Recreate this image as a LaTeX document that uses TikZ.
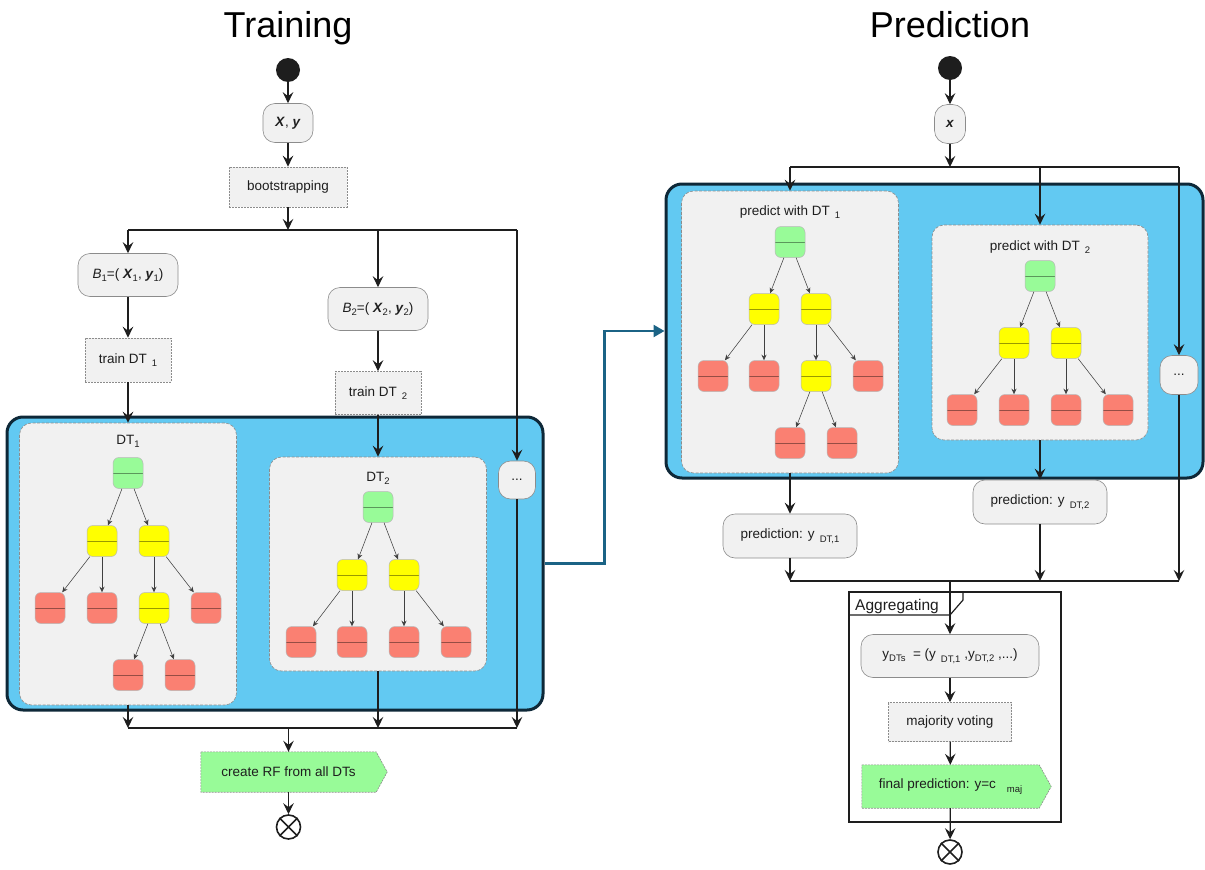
\documentclass[tikz,border=0pt]{standalone}
\usepackage{fontspec}
\setmainfont{Liberation Sans}
\usepackage{tikz}
\usetikzlibrary{arrows.meta,calc}
\pgfdeclarelayer{bg}
\pgfsetlayers{bg,main}

\definecolor{boxfill}{HTML}{F1F1F1}
\definecolor{boxline}{HTML}{8C8C8C}
\definecolor{poolblue}{HTML}{62C9F2}
\definecolor{poolline}{HTML}{0E2838}
\definecolor{linkteal}{HTML}{1B6385}
\definecolor{leafgreen}{HTML}{98FB98}
\definecolor{splityellow}{HTML}{FFFF00}
\definecolor{leafred}{HTML}{FA8072}
\definecolor{ink}{HTML}{1E1E1E}

% spaced, lowered subscript and tight subscript
\newcommand{\lsub}[1]{\hspace{5pt}\raisebox{-3.5pt}{\fontsize{9.5}{10}\selectfont #1}}
\newcommand{\tsub}[1]{\raisebox{-3pt}{\fontsize{9.5}{10}\selectfont #1}}

\tikzset{
  txt/.style={font=\fontsize{13.5}{15}\selectfont, text=ink},
  act/.style={txt, draw=boxline, fill=boxfill, line width=0.6pt, rounded corners=12pt, inner sep=0pt},
  task/.style={txt, draw=boxline, fill=boxfill, line width=0.6pt, dash pattern=on 2pt off 1pt, inner sep=0pt},
  sigtext/.style={txt, inner sep=0pt},
  sigshape/.style={draw=boxline, fill=leafgreen, line width=0.6pt, dash pattern=on 2pt off 1pt},
  panel/.style={draw=boxline, fill=boxfill, line width=0.6pt, dash pattern=on 3pt off 1.5pt, rounded corners=12pt, inner sep=0pt},
  pool/.style={draw=poolline, fill=poolblue, line width=3pt, rounded corners=16pt, inner sep=0pt},
  tn/.style={fill=#1, draw=black!28, line width=0.5pt, minimum width=30pt, minimum height=31pt,
    inner sep=0pt, rounded corners=6pt,
    path picture={\draw[draw=#1!60!black, line width=0.8pt]
      (path picture bounding box.west) -- (path picture bounding box.east);}},
  tarr/.style={-{Stealth[length=5.5pt,width=5pt]}, line width=0.55pt, draw=ink!85},
  flow/.style={-{Stealth[length=11pt,width=10.5pt,inset=4pt]}, line width=1.2pt, draw=ink},
  bar/.style={line width=1.5pt, draw=ink},
  startdot/.style={circle, fill=ink, minimum size=24pt, inner sep=0pt},
  enddot/.style={circle, draw=ink, fill=white, line width=1.6pt, minimum size=24pt, inner sep=0pt},
  heading/.style={font=\fontsize{36}{40}\selectfont, text=black, anchor=base},
  link/.style={draw=linkteal, line width=2.5pt, -{Triangle[length=11pt,width=12pt]}}
}

\begin{document}
\begin{tikzpicture}[x=1pt,y=-1pt]
\useasboundingbox (0,0) rectangle (1205,870);

% ================= Training =================
\node[heading] (ttitle) at (288,37) {Training};
\node[startdot] (tstart) at (288,70) {};
\node[act, minimum width=50pt, minimum height=39pt] (xy) at (288,123)
  {\textbf{\textit{X}}, \textbf{\textit{y}}};
\node[task, minimum width=118pt, minimum height=40pt] (boot) at (288,187) {bootstrapping};

\coordinate (tf0) at (288,230);
\coordinate (tf1) at (128,230);
\coordinate (tf2) at (378,230);
\coordinate (tf3) at (517,230);

\node[act, minimum width=100pt, minimum height=43pt] (b1) at (128,275)
  {\textit{B}\tsub{1}=( \textbf{\textit{X}}\tsub{1}, \textbf{\textit{y}}\tsub{1})};
\node[act, minimum width=100pt, minimum height=43pt] (b2) at (378,309)
  {\textit{B}\tsub{2}=( \textbf{\textit{X}}\tsub{2}, \textbf{\textit{y}}\tsub{2})};
\node[task, minimum width=86pt, minimum height=44pt] (tr1) at (128,360) {train DT\lsub{1}};
\node[task, minimum width=86pt, minimum height=43pt] (tr2) at (378,393) {train DT\lsub{2}};

% pool of trained trees
\node[pool, minimum width=536pt, minimum height=293pt] (tpool) at (275,563.5) {};
\node[panel, minimum width=217pt, minimum height=282pt] (dt1p) at (128,564) {};
\node[panel, minimum width=217pt, minimum height=214pt] (dt2p) at (378,564) {};
\node[act, rounded corners=12pt, minimum width=37pt, minimum height=38pt] (tdots) at (517,480) {...};

\node[txt] (dt1t) at (128,441) {DT\tsub{1}};
\node[txt] (dt2t) at (378,478) {DT\tsub{2}};

% tree 1
\node[tn=leafgreen]   (a1r)  at (128,473) {};
\node[tn=splityellow] (a1l)  at (102,541) {};
\node[tn=splityellow] (a1m)  at (154,541) {};
\node[tn=leafred]     (a1la) at (50,608) {};
\node[tn=leafred]     (a1lb) at (102,608) {};
\node[tn=splityellow] (a1ma) at (154,608) {};
\node[tn=leafred]     (a1mb) at (206,608) {};
\node[tn=leafred]     (a1x)  at (128,675) {};
\node[tn=leafred]     (a1y)  at (180,675) {};
\foreach \p/\c in {a1r/a1l,a1r/a1m,a1l/a1la,a1l/a1lb,a1m/a1ma,a1m/a1mb,a1ma/a1x,a1ma/a1y}
  \draw[tarr] (\p) -- (\c);

% tree 2
\node[tn=leafgreen]   (a2r) at (378,507) {};
\node[tn=splityellow] (a2l) at (352,575) {};
\node[tn=splityellow] (a2m) at (404,575) {};
\node[tn=leafred]     (a2a) at (301,642) {};
\node[tn=leafred]     (a2b) at (352,642) {};
\node[tn=leafred]     (a2c) at (404,642) {};
\node[tn=leafred]     (a2d) at (456,642) {};
\foreach \p/\c in {a2r/a2l,a2r/a2m,a2l/a2a,a2l/a2b,a2m/a2c,a2m/a2d}
  \draw[tarr] (\p) -- (\c);

\coordinate (tj0) at (288.5,728);
\coordinate (tj1) at (128,728);
\coordinate (tj2) at (378,728);
\coordinate (tj3) at (517,728);

\node[sigtext, minimum width=175pt, minimum height=40pt] (rf) at (288.5,772) {create RF from all DTs};
\begin{pgfonlayer}{bg}
  \draw[sigshape] (rf.north west) -- (rf.north east) -- ($(rf.east)+(11,0)$)
    -- (rf.south east) -- (rf.south west) -- cycle;
\end{pgfonlayer}
\node[enddot] (tend) at (288.5,827) {};
\draw[line width=1.6pt, draw=ink] (tend.45) -- (tend.225) (tend.135) -- (tend.-45);

% training connectors
\draw[flow] (tstart) -- (xy);
\draw[flow] (xy) -- (boot);
\draw[flow] (boot) -- (tf0);
\draw[bar] (tf1) -- (tf3);
\draw[flow] (tf1) -- (b1);
\draw[flow] (tf2) -- (b2);
\draw[flow] (tf3) -- (tdots);
\draw[flow] (b1) -- (tr1);
\draw[flow] (b2) -- (tr2);
\draw[flow] (tr1) -- (dt1p);
\draw[flow] (tr2) -- (dt2p);
\draw[flow] (dt1p) -- (tj1);
\draw[flow] (dt2p) -- (tj2);
\draw[flow] (tdots) -- (tj3);
\draw[bar] (tj1) -- (tj3);
\draw[flow] (tj0) -- (rf);
\draw[flow] (rf) -- (tend);

% ================= Prediction =================
\node[heading] (ptitle) at (950,37) {Prediction};
\node[startdot] (pstart) at (950,68) {};
\node[act, rounded corners=13pt, minimum width=31pt, minimum height=39pt] (px) at (950,124)
  {\textbf{\textit{x}}};

\coordinate (pf0) at (950,167);
\coordinate (pf1) at (790,167);
\coordinate (pf2) at (1040,167);
\coordinate (pf3) at (1179,167);

\node[pool, minimum width=537pt, minimum height=294pt] (ppool) at (934.5,331) {};
\node[panel, minimum width=217pt, minimum height=282pt] (pp1) at (790,332) {};
\node[panel, minimum width=216pt, minimum height=215pt] (pp2) at (1040,332.5) {};
\node[act, rounded corners=12pt, minimum width=38pt, minimum height=39pt] (pdots) at (1179,375) {...};

\node[txt] (pp1t) at (790,212) {predict with DT\lsub{1}};
\node[txt] (pp2t) at (1040,247) {predict with DT\lsub{2}};

% tree 1, prediction
\node[tn=leafgreen]   (p1r)  at (790,242) {};
\node[tn=splityellow] (p1l)  at (764,309) {};
\node[tn=splityellow] (p1m)  at (816,309) {};
\node[tn=leafred]     (p1la) at (713,376) {};
\node[tn=leafred]     (p1lb) at (764,376) {};
\node[tn=splityellow] (p1ma) at (816,376) {};
\node[tn=leafred]     (p1mb) at (868,376) {};
\node[tn=leafred]     (p1x)  at (790,443) {};
\node[tn=leafred]     (p1y)  at (842,443) {};
\foreach \p/\c in {p1r/p1l,p1r/p1m,p1l/p1la,p1l/p1lb,p1m/p1ma,p1m/p1mb,p1ma/p1x,p1ma/p1y}
  \draw[tarr] (\p) -- (\c);

% tree 2, prediction
\node[tn=leafgreen]   (p2r) at (1040,276) {};
\node[tn=splityellow] (p2l) at (1014,343) {};
\node[tn=splityellow] (p2m) at (1066,343) {};
\node[tn=leafred]     (p2a) at (962,410) {};
\node[tn=leafred]     (p2b) at (1014,410) {};
\node[tn=leafred]     (p2c) at (1066,410) {};
\node[tn=leafred]     (p2d) at (1118,410) {};
\foreach \p/\c in {p2r/p2l,p2r/p2m,p2l/p2a,p2l/p2b,p2m/p2c,p2m/p2d}
  \draw[tarr] (\p) -- (\c);

\node[act, minimum width=134pt, minimum height=44pt] (pr1) at (790,536) {prediction: y\lsub{DT,1}};
\node[act, minimum width=134pt, minimum height=44pt] (pr2) at (1040,502) {prediction: y\lsub{DT,2}};

\coordinate (pj0) at (950,581);
\coordinate (pj1) at (790,581);
\coordinate (pj2) at (1040,581);
\coordinate (pj3) at (1179,581);

% aggregating frame
\node[draw=ink, line width=1.6pt, minimum width=212pt, minimum height=230pt, inner sep=0pt] (agg) at (955,707) {};
\draw[line width=1.2pt, draw=ink] (849,615) -- (950,615) -- (963,600) -- (963,592);
\node[font=\fontsize{15.5}{17}\selectfont, text=ink, anchor=base west, inner sep=0pt] (aggl) at (855,610) {Aggregating};

\node[act, minimum width=178pt, minimum height=43pt] (ydts) at (950,656)
  {y\tsub{DTs} \ = (y\lsub{DT,1} ,y\tsub{DT,2} ,...)};
\node[task, minimum width=123pt, minimum height=39pt] (maj) at (950,722) {majority voting};
\node[sigtext, minimum width=177pt, minimum height=43pt] (fin) at (950.5,786.5)
  {final prediction: y=c\lsub{\hspace{6pt}maj}};
\begin{pgfonlayer}{bg}
  \draw[sigshape] (fin.north west) -- (fin.north east) -- ($(fin.east)+(12,0)$)
    -- (fin.south east) -- (fin.south west) -- cycle;
\end{pgfonlayer}
\node[enddot] (pend) at (950,852) {};
\draw[line width=1.6pt, draw=ink] (pend.45) -- (pend.225) (pend.135) -- (pend.-45);

% prediction connectors
\draw[flow] (pstart) -- (px);
\draw[flow] (px) -- (pf0);
\draw[bar] (pf1) -- (pf3);
\draw[flow] (pf1) -- (pp1);
\draw[flow] (pf2) -- (pp2);
\draw[flow] (pf3) -- (pdots);
\draw[flow] (pp1) -- (pr1);
\draw[flow] (pp2) -- (pr2);
\draw[flow] (pr1) -- (pj1);
\draw[flow] (pr2) -- (pj2);
\draw[flow] (pdots) -- (pj3);
\draw[bar] (pj1) -- (pj3);
\draw[flow] (pj0) -- (ydts);
\draw[flow] (ydts) -- (maj);
\draw[flow] (maj) -- (fin);
\draw[flow] (fin) -- (pend);

% trained forest handed over to prediction
\draw[link] (tpool.east) -| ($(tpool.east)!0.5!(ppool.west)$) |- (ppool.west);

\end{tikzpicture}
\end{document}
